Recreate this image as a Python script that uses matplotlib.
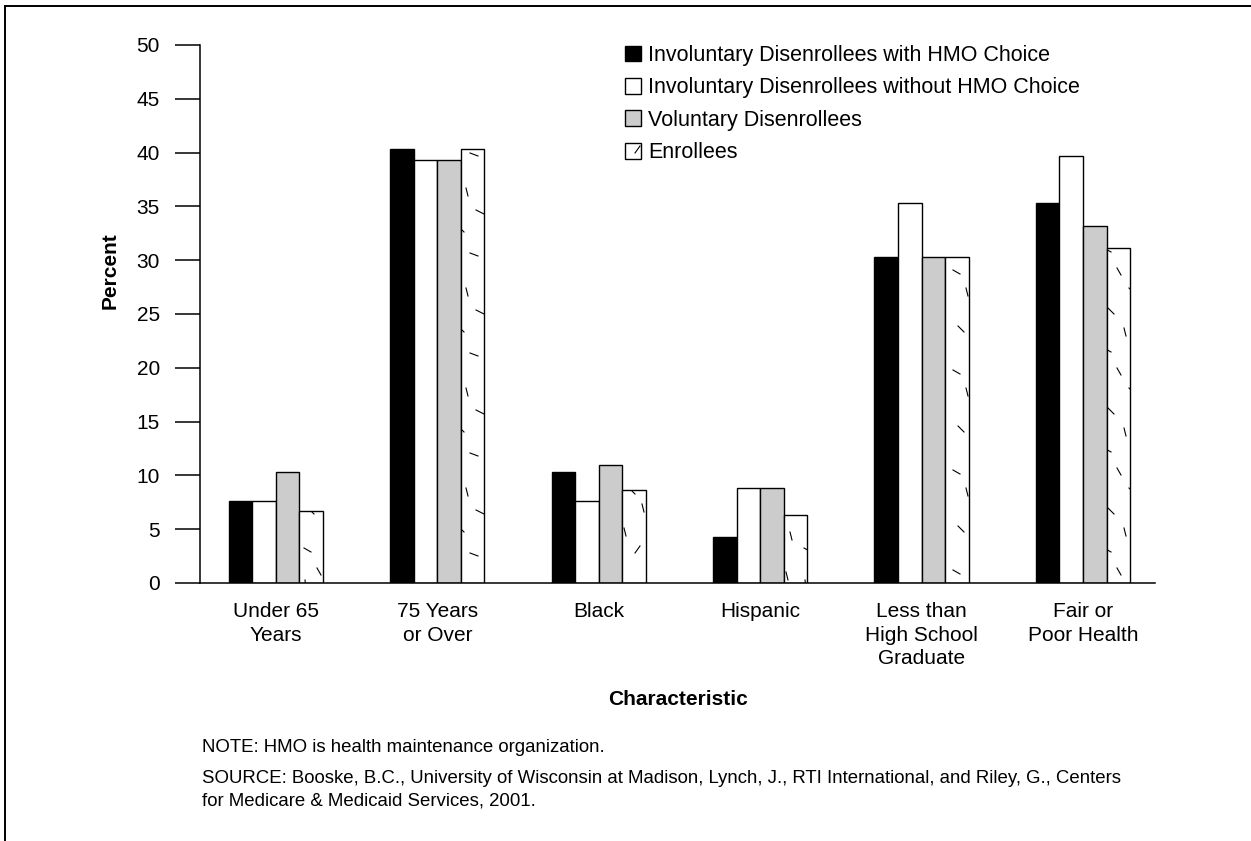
import matplotlib

matplotlib.use('Agg')
import matplotlib.hatch as mhatch
import matplotlib.pyplot as plt
import numpy as np
from matplotlib.lines import Line2D
from matplotlib.path import Path

# --- data -------------------------------------------------------------------
categories = [
    'Under 65\nYears',
    '75 Years\nor Over',
    'Black',
    'Hispanic',
    'Less than\nHigh School\nGraduate',
    'Fair or\nPoor Health',
]
series_names = [
    'Involuntary Disenrollees with HMO Choice',
    'Involuntary Disenrollees without HMO Choice',
    'Voluntary Disenrollees',
    'Enrollees',
]
invol_with_choice = [7.6, 40.3, 10.3, 4.3, 30.3, 35.3]
invol_without_choice = [7.6, 39.3, 7.6, 8.8, 35.3, 39.7]
voluntary = [10.3, 39.3, 11.0, 8.8, 30.3, 33.2]
enrollees = [6.7, 40.3, 8.6, 6.3, 30.3, 31.1]
y_ticks = [0, 5, 10, 15, 20, 25, 30, 35, 40, 45, 50]

note_text = 'NOTE: HMO is health maintenance organization.'
source_text = ('SOURCE: Booske, B.C., University of Wisconsin at Madison, Lynch, J., '
               'RTI International, and Riley, G., Centers\n'
               'for Medicare & Medicaid Services, 2001.')


# sparse short strokes used as the "Enrollees" texture (one hatch tile = unit square)
class ScatterDashes(mhatch.HatchPatternBase):
    strokes = [
        ((0.08, 0.92), (0.14, 0.86)), ((0.42, 0.96), (0.44, 0.88)),
        ((0.76, 0.90), (0.84, 0.86)), ((0.24, 0.72), (0.26, 0.64)),
        ((0.58, 0.74), (0.64, 0.68)), ((0.90, 0.68), (0.92, 0.60)),
        ((0.04, 0.52), (0.11, 0.48)), ((0.40, 0.54), (0.35, 0.47)),
        ((0.70, 0.47), (0.78, 0.44)), ((0.17, 0.32), (0.21, 0.25)),
        ((0.53, 0.30), (0.60, 0.26)), ((0.86, 0.28), (0.88, 0.20)),
        ((0.29, 0.12), (0.35, 0.06)), ((0.66, 0.12), (0.68, 0.04)),
        ((0.94, 0.08), (0.90, 0.02)), ((0.05, 0.20), (0.06, 0.12)),
    ]

    def __init__(self, hatch, density):
        self.num_vertices = 2 * len(self.strokes) if '.' in hatch else 0

    def set_vertices_and_codes(self, vertices, codes):
        for i, (p0, p1) in enumerate(self.strokes):
            vertices[2 * i] = p0
            vertices[2 * i + 1] = p1
            codes[2 * i] = Path.MOVETO
            codes[2 * i + 1] = Path.LINETO


mhatch._hatch_types = [ScatterDashes]

plt.rcParams['font.family'] = ['Liberation Sans', 'DejaVu Sans']
plt.rcParams['hatch.linewidth'] = 0.8

fig = plt.figure(figsize=(12.51, 8.41), dpi=100)
ax = fig.add_axes([0.1599, 0.3068, 0.7634, 0.6397])

x = np.arange(len(categories))
width = 0.146
values = [invol_with_choice, invol_without_choice, voluntary, enrollees]
fills = ['black', 'white', '#cccccc', 'white']
hatches = [None, None, None, '.']

for i, (vals, fc, h, name) in enumerate(zip(values, fills, hatches, series_names)):
    ax.bar(x + (i - 1.5) * width, vals, width, color=fc, edgecolor='black',
           linewidth=1.0, hatch=h, label=name, zorder=2)

ax.set_xlim(-0.47, len(categories) - 1 + 0.446)
ax.set_ylim(0, 50)
ax.set_yticks(y_ticks)
ax.set_xticks(x)
ax.set_xticklabels(categories, fontsize=15, linespacing=1.3)
ax.tick_params(axis='x', length=0, pad=14)
ax.tick_params(axis='y', direction='out', length=18, width=1.1, pad=11, labelsize=15)

for side in ['top', 'right']:
    ax.spines[side].set_visible(False)
ax.spines['left'].set_linewidth(1.1)
ax.spines['bottom'].set_linewidth(1.1)
ax.spines['bottom'].set_zorder(3)

ax.set_ylabel('Percent', fontsize=15, fontweight='bold')
ax.yaxis.set_label_coords(-0.084, 0.58)
ax.set_xlabel('Characteristic', fontsize=15, fontweight='bold')
ax.xaxis.set_label_coords(0.5, -0.199)

ax.legend(loc='upper left', bbox_to_anchor=(0.445, 1.0), frameon=False,
          fontsize=15.5, handlelength=0.75, handleheight=0.75,
          handletextpad=0.33, labelspacing=0.53, borderpad=0, borderaxespad=0)

fig.text(202 / 1251, 1 - 739 / 841, note_text, fontsize=13.4, va='top')
fig.text(202 / 1251, 1 - 770 / 841, source_text, fontsize=13.4, va='top',
         linespacing=1.45)

# page frame: top and left rules
fig.add_artist(Line2D([0.004, 0.004], [0, 0.993], color='black', lw=1.4,
                      transform=fig.transFigure))
fig.add_artist(Line2D([0.004, 1], [0.993, 0.993], color='black', lw=1.4,
                      transform=fig.transFigure))

fig.savefig('out.png', dpi=100)
plt.close(fig)
